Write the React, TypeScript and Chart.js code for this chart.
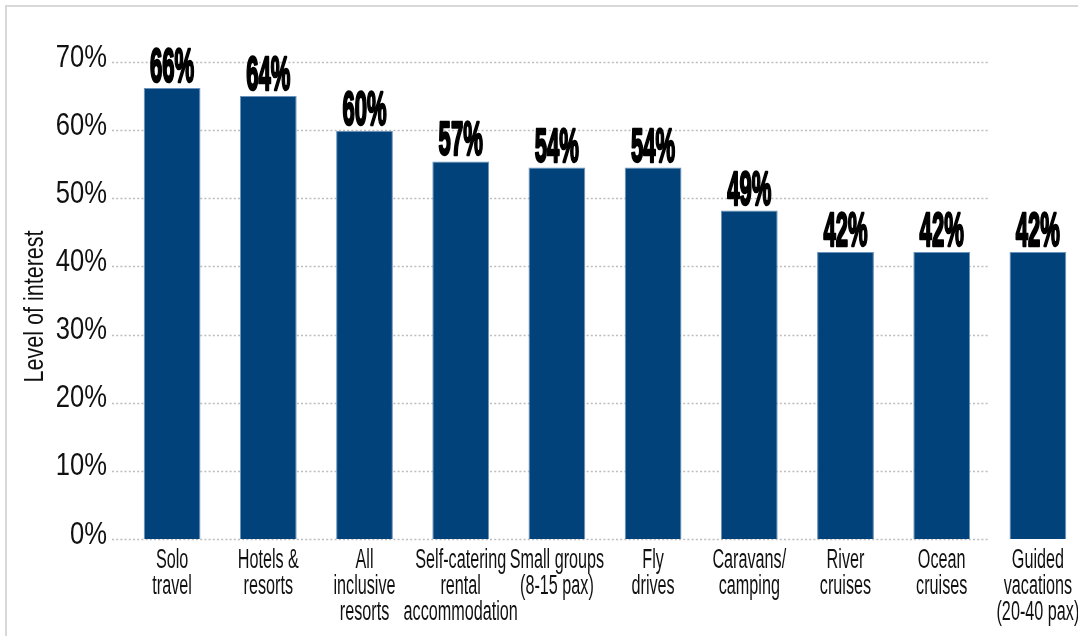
import React, { useEffect, useRef } from "react";
import { Chart, registerables } from "chart.js";

Chart.register(...registerables);

// ---- data ----
const CATEGORIES: string[][] = [
  ["Solo", "travel"],
  ["Hotels &", "resorts"],
  ["All", "inclusive", "resorts"],
  ["Self-catering", "rental", "accommodation"],
  ["Small groups", "(8-15 pax)"],
  ["Fly", "drives"],
  ["Caravans/", "camping"],
  ["River", "cruises"],
  ["Ocean", "cruises"],
  ["Guided", "vacations", "(20-40 pax)"],
];
const VALUES: number[] = [66.2, 65.0, 59.9, 55.4, 54.5, 54.5, 48.2, 42.1, 42.1, 42.1];
const VALUE_LABELS: string[] = ["66%", "64%", "60%", "57%", "54%", "54%", "49%", "42%", "42%", "42%"];
const Y_TICKS: number[] = [0, 10, 20, 30, 40, 50, 60, 70];
const Y_TICK_LABELS: string[] = ["0%", "10%", "20%", "30%", "40%", "50%", "60%", "70%"];
const Y_TITLE = "Level of interest";

// ---- styles ----
const BAR_COLOR = "#02427b";
const BAR_EDGE = "#6b93bb";
const GRID_COLOR = "#bdbdbd";
const TEXT_COLOR = "#111111";

function drawScaledText(
  ctx: CanvasRenderingContext2D,
  text: string,
  x: number,
  y: number,
  sx: number,
  align: CanvasTextAlign
) {
  ctx.save();
  ctx.translate(x, y);
  ctx.scale(sx, 1);
  ctx.textAlign = align;
  ctx.textBaseline = "alphabetic";
  ctx.fillText(text, 0, 0);
  ctx.restore();
}

export default function App() {
  const ref = useRef<HTMLCanvasElement>(null);

  useEffect(() => {
    const canvas = ref.current;
    if (!canvas) return;

    const decorPlugin = {
      id: "decor",
      beforeDatasetsDraw(chart: any) {
        const { ctx, chartArea, scales } = chart;
        const y = scales.y;
        const w = chartArea.right - chartArea.left;
        const x0 = chartArea.left - 12;
        const x1 = chartArea.left + w * 0.9;
        ctx.save();
        ctx.strokeStyle = GRID_COLOR;
        ctx.lineWidth = 1.6;
        ctx.setLineDash([2, 2.2]);
        for (const t of Y_TICKS) {
          const py = Math.round(y.getPixelForValue(t)) + 0.5;
          ctx.beginPath();
          ctx.moveTo(x0, py);
          ctx.lineTo(x1, py);
          ctx.stroke();
        }
        ctx.restore();
      },
      afterDatasetsDraw(chart: any) {
        const { ctx, chartArea, scales } = chart;
        const x = scales.x;
        const y = scales.y;
        ctx.save();
        ctx.fillStyle = TEXT_COLOR;

        // y tick labels
        ctx.font = "32px 'Liberation Sans', Arial, sans-serif";
        Y_TICKS.forEach((t, i) => {
          const py = y.getPixelForValue(t) + 4.5;
          drawScaledText(ctx, Y_TICK_LABELS[i], chartArea.left - 17, py, 0.8, "right");
        });

        // category labels
        ctx.font = "27px 'Liberation Sans', Arial, sans-serif";
        CATEGORIES.forEach((lines, i) => {
          const px = x.getPixelForValue(i);
          lines.forEach((ln, j) => {
            drawScaledText(ctx, ln, px, chartArea.bottom + 29 + j * 26, 0.6, "center");
          });
        });

        // y title
        ctx.font = "28px 'Liberation Sans', Arial, sans-serif";
        ctx.save();
        ctx.translate(43, (chartArea.top + chartArea.bottom) / 2 + 6);
        ctx.rotate(-Math.PI / 2);
        ctx.scale(0.77, 1);
        ctx.textAlign = "center";
        ctx.textBaseline = "alphabetic";
        ctx.fillText(Y_TITLE, 0, 0);
        ctx.restore();

        // value labels
        ctx.font = "bold 48px 'Liberation Sans', Arial, sans-serif";
        ctx.fillStyle = "#000000";
        ctx.strokeStyle = "#000000";
        ctx.lineWidth = 2.6;
        ctx.lineJoin = "round";
        VALUES.forEach((v, i) => {
          const px = x.getPixelForValue(i);
          const py = y.getPixelForValue(v) - 6;
          ctx.save();
          ctx.translate(px, py);
          ctx.scale(0.46, 1);
          ctx.textAlign = "center";
          ctx.textBaseline = "alphabetic";
          ctx.fillText(VALUE_LABELS[i], 0, 0);
          ctx.strokeText(VALUE_LABELS[i], 0, 0);
          ctx.restore();
        });

        ctx.restore();
      },
    };

    const chart = new Chart(canvas, {
      type: "bar",
      data: {
        labels: CATEGORIES,
        datasets: [
          {
            data: VALUES,
            backgroundColor: BAR_COLOR,
            borderColor: BAR_EDGE,
            borderWidth: 1,
            barPercentage: 0.59,
            categoryPercentage: 1,
          },
        ],
      },
      options: {
        responsive: false,
        animation: false,
        layout: { padding: { left: 124, right: 14, top: 62, bottom: 97 } },
        plugins: { legend: { display: false }, tooltip: { enabled: false } },
        scales: {
          x: { display: false },
          y: { display: false, min: 0, max: 70 },
        },
      },
      plugins: [decorPlugin],
    });

    return () => chart.destroy();
  }, []);

  return (
    <div
      style={{
        position: "fixed",
        left: 0,
        top: 0,
        width: 1078,
        height: 636,
        overflow: "hidden",
        background: "#ffffff",
      }}
    >
      <div
        style={{
          position: "absolute",
          left: 5,
          top: 5,
          width: 1200,
          height: 800,
          borderTop: "2px solid #d8d8d8",
          borderLeft: "2px solid #d8d8d8",
        }}
      />
      <canvas
        ref={ref}
        width={1100}
        height={636}
        style={{ position: "absolute", left: 0, top: 0, display: "block" }}
      />
    </div>
  );
}
